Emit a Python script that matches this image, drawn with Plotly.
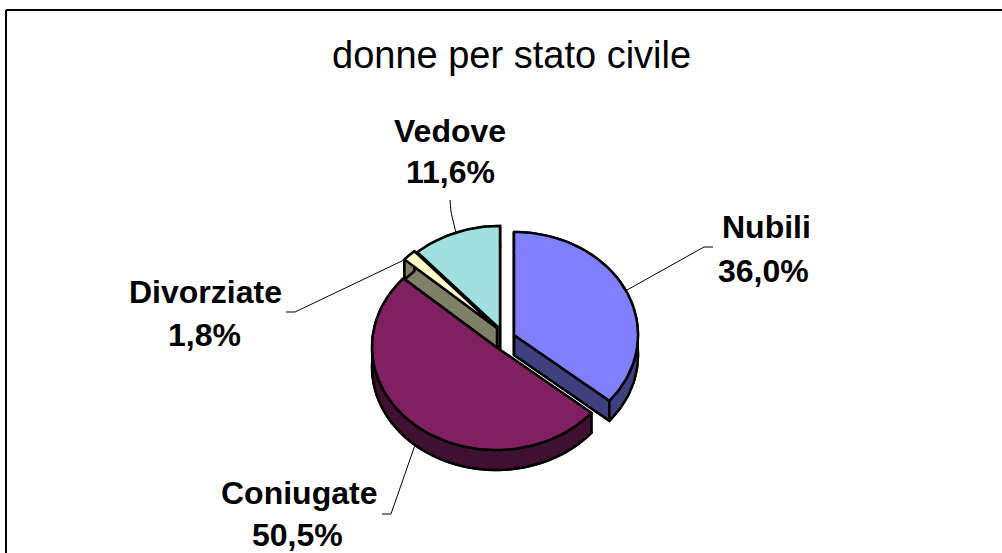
import math
import plotly.graph_objects as go

# ---- data ----
categories = ["Nubili", "Coniugate", "Divorziate", "Vedove"]
values = [36.0, 50.5, 1.8, 11.6]
chart_title = "donne per stato civile"

# ---- styling / layout ----
W, H = 1002, 553
top_colors = {"Nubili": "#8080FF", "Coniugate": "#802060", "Divorziate": "#FFFFCC", "Vedove": "#A0E0E0"}
side_colors = {"Nubili": "#404080", "Coniugate": "#401030", "Divorziate": "#808066", "Vedove": "#507070"}
centers = {"Nubili": (514, 335), "Coniugate": (496, 347), "Divorziate": (497, 328), "Vedove": (500, 329)}
draw_order = ["Vedove", "Divorziate", "Coniugate", "Nubili"]
RX, RY, DEPTH = 124, 103, 20

name_pos = {"Nubili": (766, 227), "Coniugate": (299, 493), "Divorziate": (205, 292), "Vedove": (450, 131)}
pct_pos = {"Nubili": (763, 271), "Coniugate": (297, 535), "Divorziate": (204, 335), "Vedove": (450, 172)}
leaders = {
    "Nubili": [(627, 290), (704, 247), (713, 247)],
    "Coniugate": [(415, 445), (391, 514), (382, 514)],
    "Divorziate": [(404, 260), (295, 312), (286, 312)],
    "Vedove": [(456, 233), (451, 212), (450, 200)],
}

total = sum(values)
spans = {}
acc = 0.0
for c, v in zip(categories, values):
    a0 = acc / total * 360
    acc += v
    spans[c] = (a0, acc / total * 360)


def rim(cat, dy=0.0):
    cx, cy = centers[cat]
    a0, a1 = spans[cat]
    n = max(3, int((a1 - a0) / 2))
    pts = []
    for i in range(n + 1):
        t = math.radians(a0 + (a1 - a0) * i / n)
        pts.append((cx + RX * math.sin(t), cy - RY * math.cos(t) + dy))
    return pts


fig = go.Figure()


def poly(pts, color):
    xs = [p[0] for p in pts] + [pts[0][0]]
    ys = [p[1] for p in pts] + [pts[0][1]]
    fig.add_trace(go.Scatter(x=xs, y=ys, mode="lines", fill="toself", fillcolor=color,
                             line=dict(color="black", width=2.5, shape="linear"),
                             hoverinfo="skip", showlegend=False))


for cat in draw_order:
    cx, cy = centers[cat]
    top = rim(cat)
    low = rim(cat, DEPTH)
    apex, apex_low = (cx, cy), (cx, cy + DEPTH)
    side = side_colors[cat]
    poly([apex_low] + low, side)
    poly([apex, top[-1], low[-1], apex_low], side)
    poly([apex, top[0], low[0], apex_low], side)
    poly(top + low[::-1], side)
    poly([apex] + top, top_colors[cat])

annotations = [dict(x=511, y=55, text=chart_title, showarrow=False,
                    font=dict(family="Liberation Sans, Arial, sans-serif", size=38, color="black"))]
for c, v in zip(categories, values):
    f = dict(family="Liberation Sans, Arial, sans-serif", size=32, color="black")
    annotations.append(dict(x=name_pos[c][0], y=name_pos[c][1], text=f"<b>{c}</b>", showarrow=False, font=f))
    annotations.append(dict(x=pct_pos[c][0], y=pct_pos[c][1], text="<b>" + f"{v:.1f}".replace(".", ",") + "%</b>",
                            showarrow=False, font=f))

shapes = [dict(type="line", x0=6, y0=10, x1=1002, y1=10, line=dict(color="black", width=2)),
          dict(type="line", x0=6, y0=10, x1=6, y1=553, line=dict(color="black", width=2))]
for c, pts in leaders.items():
    for p, q in zip(pts[:-1], pts[1:]):
        shapes.append(dict(type="line", x0=p[0], y0=p[1], x1=q[0], y1=q[1], line=dict(color="black", width=1)))

fig.update_layout(
    width=W, height=H, margin=dict(l=0, r=0, t=0, b=0),
    paper_bgcolor="white", plot_bgcolor="white", showlegend=False,
    xaxis=dict(range=[0, W], visible=False, fixedrange=True),
    yaxis=dict(range=[H, 0], visible=False, fixedrange=True),
    annotations=annotations, shapes=shapes,
)
fig.write_html("out.html", config={"displayModeBar": False},
               post_script="document.body.style.margin='0';document.body.style.overflow='hidden';")
